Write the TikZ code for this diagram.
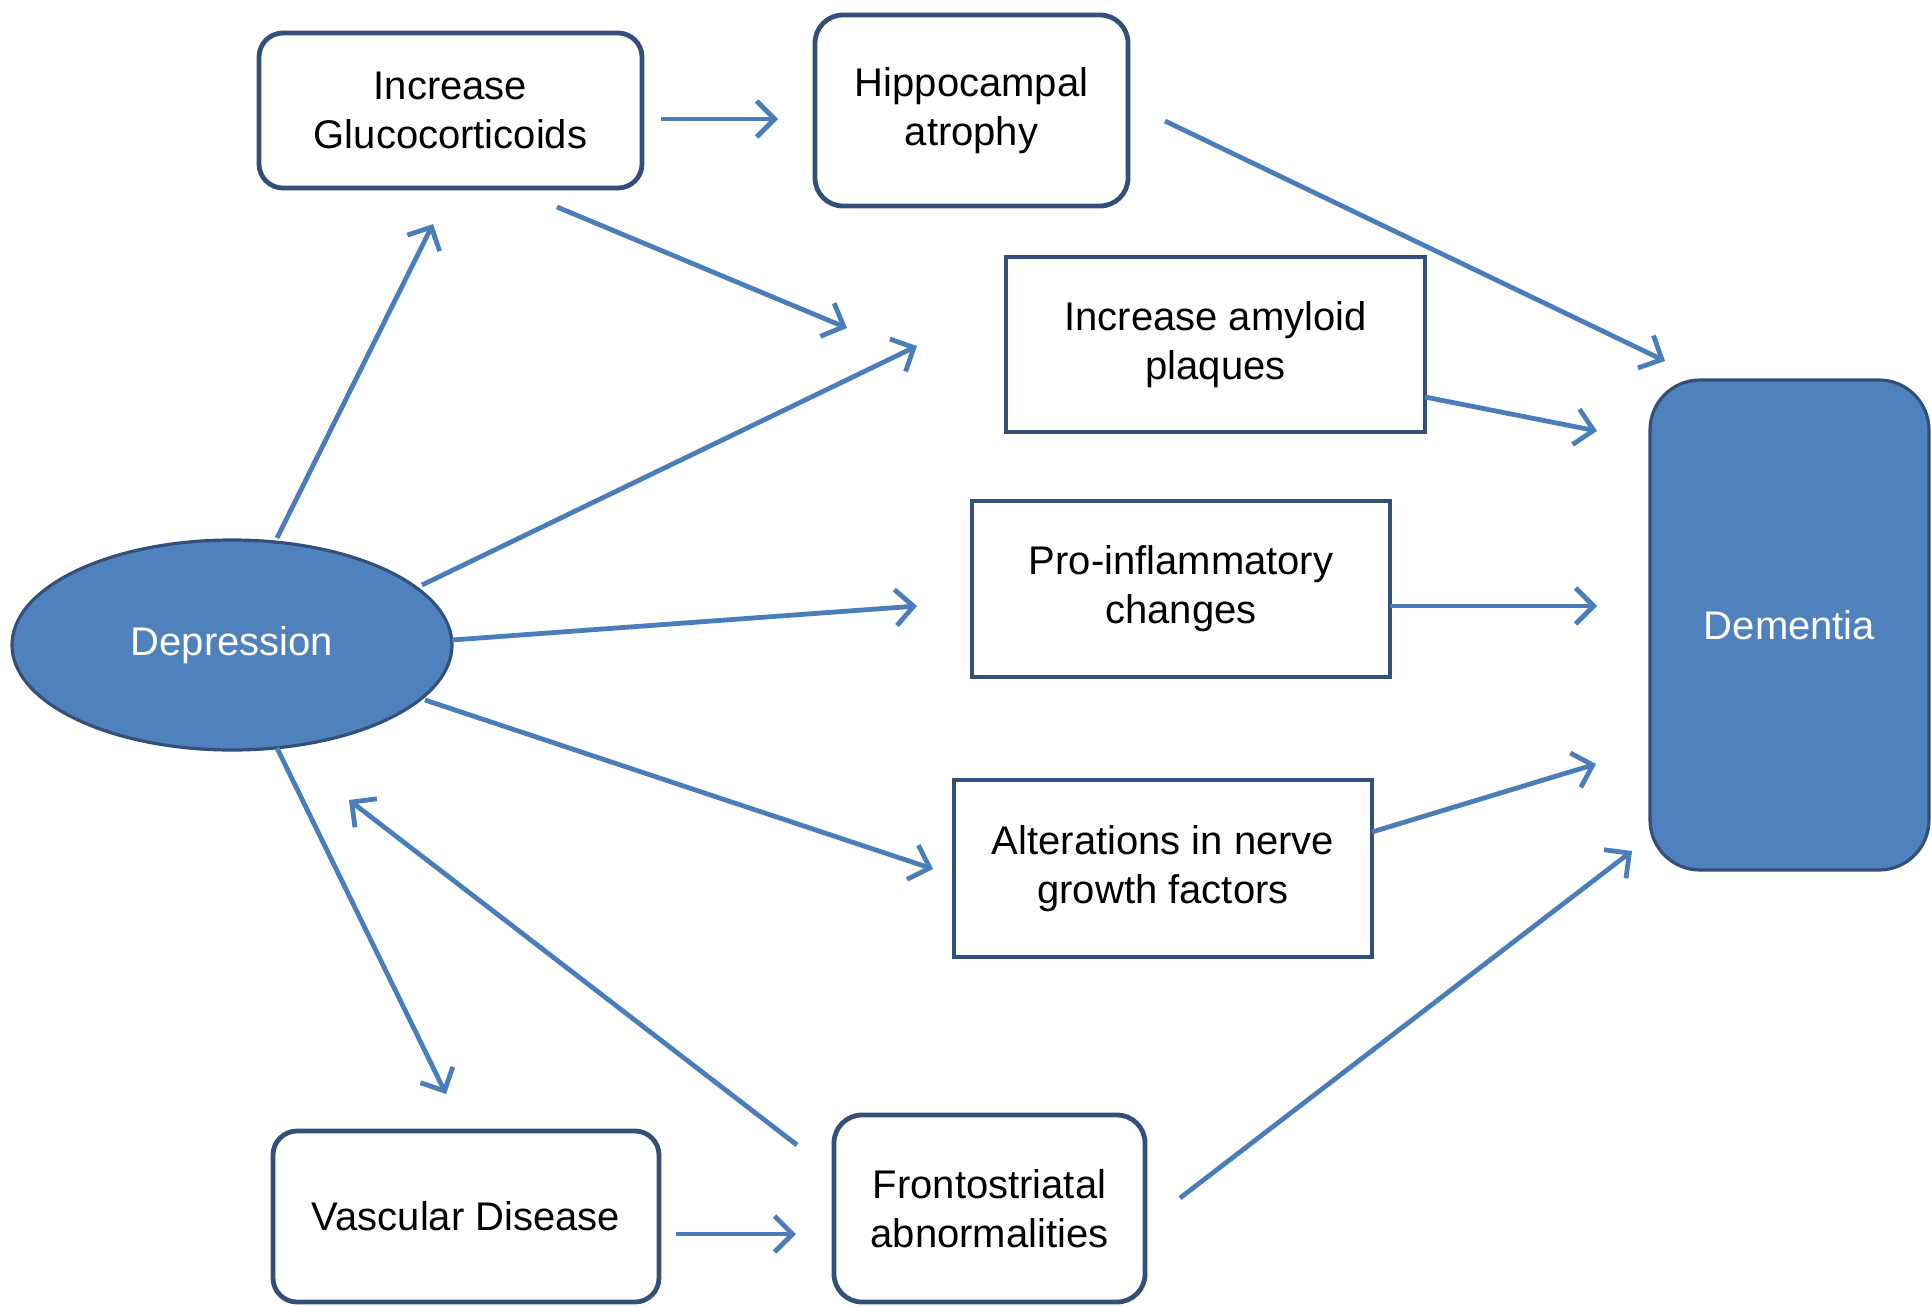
\documentclass[tikz,border=0pt]{standalone}
\usepackage{fontspec}
\setmainfont{Liberation Sans}
\usetikzlibrary{arrows.meta,shapes.geometric}
\definecolor{bluefill}{HTML}{4F81BD}
\definecolor{edgec}{HTML}{33507A}
\definecolor{arrowc}{HTML}{4A7EBB}
\begin{document}
\begin{tikzpicture}[x=0.5pt,y=-0.5pt,
  box/.style={draw=edgec, line width=2.4pt, fill=white, align=center,
    font=\fontsize{20}{24.5}\selectfont, inner sep=0pt, text=black},
  rbox/.style={box, rounded corners=12pt},
  arr/.style={draw=arrowc, line width=2.4pt, -{Straight Barb[length=9pt,width=18pt]}}]
\fill[white] (0,0) rectangle (1931,1306);
\useasboundingbox (0,0) rectangle (1931,1306);

\node[rbox, minimum width=191.5pt, minimum height=77.5pt] (gluco) at (450.5,110.5) {Increase\\Glucocorticoids};
\node[rbox, rounded corners=14pt, minimum width=156.5pt, minimum height=95.5pt] (hippo) at (971.5,110.5) {Hippocampal\\atrophy};
\node[box, minimum width=209.5pt, minimum height=87.5pt] (amyloid) at (1215.5,344.5) {Increase amyloid\\plaques};
\node[box, minimum width=209pt, minimum height=88pt] (pro) at (1181,589) {Pro-inflammatory\\changes};
\node[box, minimum width=209pt, minimum height=88.5pt] (alter) at (1163,868.5) {Alterations in nerve\\growth factors};
\node[rbox, minimum width=193pt, minimum height=85.5pt] (vasc) at (466,1216.5) {Vascular Disease};
\node[rbox, rounded corners=14pt, minimum width=155.5pt, minimum height=93.5pt] (fronto) at (989.5,1208.5) {Frontostriatal\\abnormalities};
\node[ellipse, draw=edgec, line width=1.6pt, fill=bluefill, text=white,
  font=\fontsize{20}{24.5}\selectfont, minimum width=220pt, minimum height=105pt, inner sep=0pt] (dep) at (232,645) {Depression};
\node[draw=edgec, line width=1.6pt, fill=bluefill, text=white, rounded corners=25pt,
  font=\fontsize{20}{24.5}\selectfont, minimum width=139.5pt, minimum height=245pt, inner sep=0pt] (dem) at (1789.5,625) {Dementia};

% arrow end points
\coordinate (a1s) at (661,119);  \coordinate (a1e) at (778,119);
\coordinate (a2s) at (557,207);  \coordinate (a2e) at (847,328);
\coordinate (a3s) at (277,538);  \coordinate (a3e) at (433,224);
\coordinate (a4s) at (422,585);  \coordinate (a4e) at (917,346);
\coordinate (a5s) at (452,640);  \coordinate (a5e) at (917,606);
\coordinate (a6s) at (425,700);  \coordinate (a6e) at (933,869);
\coordinate (a7s) at (277,748);  \coordinate (a7e) at (446,1094);
\coordinate (a8s) at (797,1145); \coordinate (a8e) at (349,800);
\coordinate (a9s) at (676,1234); \coordinate (a9e) at (796,1234);
\coordinate (a10s) at (1165,121); \coordinate (a10e) at (1665,361);
\coordinate (a11s) at (1425,397); \coordinate (a11e) at (1597,431);
\coordinate (a12s) at (1390,606); \coordinate (a12e) at (1597,606);
\coordinate (a13s) at (1372,832); \coordinate (a13e) at (1596,764);
\coordinate (a14s) at (1180,1198); \coordinate (a14e) at (1632,851);

\foreach \i in {1,...,14} {\draw[arr] (a\i s) -- (a\i e);}
\end{tikzpicture}
\end{document}
